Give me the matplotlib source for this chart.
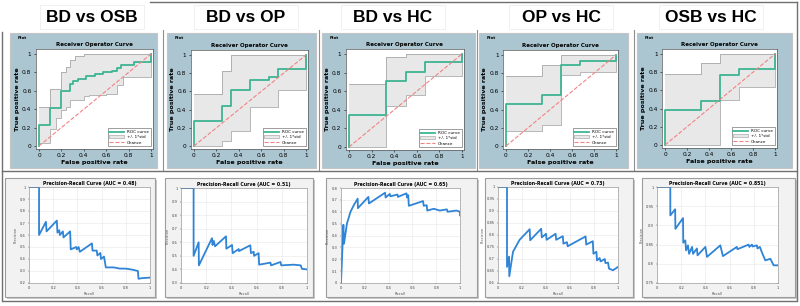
import numpy as np
import matplotlib.pyplot as plt
from matplotlib.patches import Rectangle
from matplotlib.lines import Line2D
from matplotlib.ticker import FuncFormatter

# panel titles / AUC values
titles = ["BD vs OSB", "BD vs OP", "BD vs HC", "OP vs HC", "OSB vs HC"]
pr_auc = ["0.48", "0.51", "0.65", "0.73", "0.851"]

# mean ROC curves (drawn as post steps)
roc_fpr_1 = [0, 0, 0.1, 0.2, 0.28, 0.3, 0.35, 0.42, 0.5, 0.57, 0.65, 0.7, 0.73, 0.85, 1.0]
roc_tpr_1 = [0, 0.23, 0.41, 0.6, 0.67, 0.71, 0.73, 0.76, 0.78, 0.8, 0.82, 0.85, 0.88, 0.91, 1.0]
roc_fpr_2 = [0, 0, 0.25, 0.33, 0.5, 0.67, 0.75, 1.0]
roc_tpr_2 = [0, 0.27, 0.44, 0.62, 0.73, 0.76, 0.85, 1.0]
roc_fpr_3 = [0, 0, 0.33, 0.5, 0.67, 1.0]
roc_tpr_3 = [0, 0.34, 0.71, 0.81, 0.91, 1.0]
roc_fpr_4 = [0, 0, 0.33, 0.5, 0.67, 1.0]
roc_tpr_4 = [0, 0.46, 0.56, 0.89, 0.93, 1.0]
roc_fpr_5 = [0, 0, 0.33, 0.5, 0.67, 1.0]
roc_tpr_5 = [0, 0.38, 0.48, 0.77, 0.83, 1.0]

# +/- 1 std band
band_x_1 = [0, 0.1, 0.15, 0.2, 0.24, 0.28, 0.32, 0.4, 0.45, 0.6, 0.7, 0.75, 1.0]
band_hi_1 = [0.42, 0.62, 0.62, 0.8, 0.86, 0.93, 0.98, 1.0, 1.0, 1.0, 1.0, 1.0, 1.0]
band_lo_1 = [0.03, 0.19, 0.3, 0.39, 0.42, 0.5, 0.5, 0.54, 0.55, 0.57, 0.66, 0.75, 1.0]
band_x_2 = [0, 0.25, 0.33, 0.5, 0.75, 1.0]
band_hi_2 = [0.57, 0.82, 1.0, 1.0, 1.0, 1.0]
band_lo_2 = [0.0, 0.06, 0.16, 0.43, 0.62, 1.0]
band_x_3 = [0, 0.33, 0.5, 0.67, 1.0]
band_hi_3 = [0.68, 0.97, 1.0, 1.0, 1.0]
band_lo_3 = [0.0, 0.44, 0.56, 0.76, 1.0]
band_x_4 = [0, 0.33, 0.5, 0.67, 1.0]
band_hi_4 = [0.77, 0.89, 1.0, 1.0, 1.0]
band_lo_4 = [0.16, 0.23, 0.78, 0.81, 1.0]
band_x_5 = [0, 0.33, 0.5, 0.67, 1.0]
band_hi_5 = [0.78, 0.9, 1.0, 1.0, 1.0]
band_lo_5 = [0.0, 0.0, 0.5, 0.64, 1.0]

# precision-recall curves
rec_1 = [0, 0.083, 0.083, 0.14, 0.145, 0.23, 0.235, 0.25, 0.255, 0.28, 0.285, 0.34, 0.345, 0.39, 0.395,
         0.41, 0.42, 0.52, 0.525, 0.56, 0.565, 0.59, 0.595, 0.62, 0.635, 0.66, 0.7, 0.75, 0.8, 0.86, 0.9,
         0.905, 0.93, 1.0]
prec_1 = [1, 1, 0.6, 0.71, 0.63, 0.72, 0.62, 0.64, 0.6, 0.63, 0.58, 0.63, 0.48, 0.5, 0.48,
          0.5, 0.46, 0.53, 0.47, 0.47, 0.43, 0.45, 0.4, 0.42, 0.33, 0.33, 0.33, 0.32, 0.32, 0.31, 0.3,
          0.235, 0.24, 0.245]
rec_2 = [0, 0.1, 0.1, 0.14, 0.142, 0.246, 0.25, 0.26, 0.27, 0.357, 0.36, 0.405, 0.41, 0.458, 0.46,
         0.55, 0.555, 0.577, 0.58, 0.616, 0.62, 0.71, 0.715, 0.79, 0.795, 0.894, 0.95, 0.96, 1.0]
prec_2 = [1, 1, 0.5, 0.6, 0.43, 0.63, 0.58, 0.61, 0.57, 0.644, 0.553, 0.58, 0.52, 0.55, 0.535,
          0.578, 0.52, 0.53, 0.5, 0.52, 0.435, 0.45, 0.43, 0.455, 0.43, 0.435, 0.43, 0.405, 0.4]
rec_3 = [0, 0.02, 0.025, 0.05, 0.08, 0.11, 0.14, 0.142, 0.23, 0.235, 0.37, 0.375, 0.41, 0.415, 0.475,
         0.478, 0.55, 0.555, 0.565, 0.57, 0.69, 0.695, 0.72, 0.725, 0.78, 0.83, 0.89, 0.895, 0.97, 1.0, 1.0]
prec_3 = [0, 0.49, 0.33, 0.5, 0.6, 0.66, 0.71, 0.63, 0.725, 0.67, 0.76, 0.72, 0.75, 0.73, 0.745,
          0.725, 0.755, 0.72, 0.74, 0.65, 0.69, 0.65, 0.655, 0.61, 0.625, 0.61, 0.62, 0.6, 0.61, 0.6, 0.57]
rec_4 = [0, 0.075, 0.075, 0.092, 0.094, 0.125, 0.18, 0.264, 0.268, 0.36, 0.365, 0.4, 0.405, 0.48, 0.485,
         0.54, 0.545, 0.575, 0.58, 0.73, 0.735, 0.79, 0.795, 0.82, 0.825, 0.847, 0.855, 0.89, 0.895, 0.917,
         0.925, 0.958, 1.0]
prec_4 = [1, 1, 0.667, 0.71, 0.628, 0.73, 0.78, 0.824, 0.778, 0.826, 0.79, 0.805, 0.78, 0.805, 0.78,
          0.795, 0.764, 0.77, 0.753, 0.794, 0.76, 0.774, 0.722, 0.73, 0.694, 0.704, 0.69, 0.7, 0.683, 0.685,
          0.66, 0.653, 0.667]
rec_5 = [0, 0.11, 0.11, 0.15, 0.152, 0.215, 0.217, 0.234, 0.24, 0.256, 0.265, 0.29, 0.298, 0.33, 0.335,
         0.4, 0.413, 0.523, 0.545, 0.66, 0.665, 0.757, 0.763, 0.785, 0.79, 0.826, 0.83, 0.85, 0.868, 0.895,
         0.937, 0.964, 1.0]
prec_5 = [1, 1, 0.926, 0.942, 0.891, 0.919, 0.855, 0.861, 0.835, 0.848, 0.826, 0.844, 0.826, 0.84, 0.822,
          0.844, 0.818, 0.848, 0.82, 0.844, 0.838, 0.85, 0.844, 0.85, 0.845, 0.848, 0.84, 0.844, 0.829, 0.809,
          0.813, 0.796, 0.796]

roc_fpr = [roc_fpr_1, roc_fpr_2, roc_fpr_3, roc_fpr_4, roc_fpr_5]
roc_tpr = [roc_tpr_1, roc_tpr_2, roc_tpr_3, roc_tpr_4, roc_tpr_5]
band_x = [band_x_1, band_x_2, band_x_3, band_x_4, band_x_5]
band_hi = [band_hi_1, band_hi_2, band_hi_3, band_hi_4, band_hi_5]
band_lo = [band_lo_1, band_lo_2, band_lo_3, band_lo_4, band_lo_5]
recall = [rec_1, rec_2, rec_3, rec_4, rec_5]
precision = [prec_1, prec_2, prec_3, prec_4, prec_5]
pr_ylim = [(0.2, 1), (0.3, 1), (0, 0.8), (0.6, 1), (0.75, 1)]
pr_ystep = [0.1, 0.1, 0.1, 0.05, 0.05]

# pixel layout of the composite (800 x 306)
W, H = 800, 306
title_cx = [92, 246, 393, 561, 711]
roc_frame = [(10, 157), (167, 316), (322, 475), (479, 628), (637, 792)]
roc_anchor = [(39, 151, 146, 54), (194, 306, 146, 55), (349, 462, 147, 54), (506, 616, 146, 55), (665, 775, 145, 54)]
pr_frame = [(5, 155), (165, 313), (326, 477), (485, 633), (642, 795)]
pr_anchor = [(29, 150, 187, 283), (181, 307, 188, 283), (341, 460, 188, 283), (498, 618, 187, 283), (657, 778, 187, 283)]

GREEN = '#3db592'
BLUE = '#2f84d6'
FRAME = '#abc6d1'


def frect(x0, y0, x1, y1):
    return [x0 / W, 1 - y1 / H, (x1 - x0) / W, (y1 - y0) / H]


def fig_box(x0, y0, x1, y1, **kw):
    r = frect(x0, y0, x1, y1)
    fig.add_artist(Rectangle((r[0], r[1]), r[2], r[3], transform=fig.transFigure, zorder=-5, **kw))


def fig_line(xs, ys, **kw):
    fig.add_artist(Line2D([x / W for x in xs], [1 - y / H for y in ys], transform=fig.transFigure, **kw))


fmt = FuncFormatter(lambda v, p: '%g' % round(v, 3))

fig = plt.figure(figsize=(8, 3.06), dpi=100)

# outline lines of the composite
fig_line([150, 797], [1.5, 1.5], color='#707070', lw=1.0)
fig_line([2, 797], [170.5, 170.5], color='#707070', lw=1.0)
fig_line([2, 797], [300.5, 300.5], color='#707070', lw=1.0)
fig_line([2, 2], [32, 300], color='#707070', lw=1.0)
fig_line([797, 797], [1.5, 300], color='#707070', lw=1.0)
for sx in [163, 319, 477, 634]:
    fig_line([sx, sx], [30, 170], color='#909090', lw=0.8)

for i in range(5):
    # white title box with a faint edge
    fig_box(title_cx[i] - 52, 5, title_cx[i] + 52, 29, facecolor='white', edgecolor='#eeeeee', lw=0.6)
    fig.text(title_cx[i] / W, 1 - 18 / H, titles[i], ha='center', va='center',
             fontsize=12.5, fontweight='bold', family='Liberation Sans')

    # ---- ROC panel ----
    fx0, fx1 = roc_frame[i]
    fig_box(fx0, 33, fx1, 168, facecolor=FRAME, edgecolor='#c4c4c4', lw=0.8)
    fig.text((fx0 + 8) / W, 1 - 38 / H, 'Plot', fontsize=3, fontweight='bold', va='center')

    x0, x1, y0, y1 = roc_anchor[i]
    xl, yl = (-0.03, 1.02), (-0.03, 1.05)
    sx, sy = x1 - x0, y0 - y1
    ax = fig.add_axes(frect(x0 + xl[0] * sx, y0 - yl[1] * sy, x0 + xl[1] * sx, y0 - yl[0] * sy))
    ax.fill_between(band_x[i], band_lo[i], band_hi[i], step='post', color='#e8e8e8', lw=0,
                    label='+/- 1*std')
    ax.step(band_x[i], band_hi[i], where='post', color='#9a9a9a', lw=0.5)
    ax.step(band_x[i], band_lo[i], where='post', color='#9a9a9a', lw=0.5)
    ax.step(roc_fpr[i], roc_tpr[i], where='post', color=GREEN, lw=1.3, label='ROC curve')
    ax.plot([0, 1], [0, 1], '--', color='#f38282', lw=0.8, label='Chance')
    ax.set_xlim(xl)
    ax.set_ylim(yl)
    ax.set_xticks(np.arange(0, 1.01, 0.2))
    ax.set_yticks(np.arange(0, 1.01, 0.2))
    ax.xaxis.set_major_formatter(fmt)
    ax.yaxis.set_major_formatter(fmt)
    ax.tick_params(labelsize=4.2, length=1.5, width=0.4, pad=1.5)
    for s in ax.spines.values():
        s.set_linewidth(0.5)
        s.set_color('#555555')
    ax.set_title('Receiver Operator Curve', fontsize=4, fontweight='bold', pad=2.5)
    ax.set_xlabel('False positive rate', fontsize=4.6, fontweight='bold', labelpad=1.5)
    ax.set_ylabel('True positive rate', fontsize=4.6, fontweight='bold', labelpad=1.5)
    h, lab = ax.get_legend_handles_labels()
    order = [lab.index('ROC curve'), lab.index('+/- 1*std'), lab.index('Chance')]
    leg = ax.legend([h[k] for k in order], [lab[k] for k in order], loc='lower right', fontsize=3,
                    handlelength=3.5, borderpad=0.4, labelspacing=0.3, fancybox=False,
                    framealpha=1, edgecolor='#555555', borderaxespad=0.6)
    leg.get_frame().set_linewidth(0.4)
    leg.legend_handles[1].set_edgecolor('#9a9a9a')
    leg.legend_handles[1].set_linewidth(0.4)

    # ---- precision-recall panel ----
    px0, px1 = pr_frame[i]
    fig_box(px0 + 2, 180, px1 + 2, 299, facecolor='#c9c9c9', lw=0)
    fig_box(px0, 178, px1, 297, facecolor='#f2f2f2', edgecolor='#9c9c9c', lw=0.8)
    a0, a1, t, b = pr_anchor[i]
    bx = fig.add_axes(frect(a0, t, a1, b))
    bx.plot(recall[i], precision[i], color=BLUE, lw=1.3)
    bx.set_xlim(0, 1)
    bx.set_ylim(pr_ylim[i])
    bx.set_xticks(np.arange(0, 1.01, 0.2))
    bx.set_yticks(np.arange(pr_ylim[i][0], pr_ylim[i][1] + 1e-6, pr_ystep[i]))
    bx.xaxis.set_major_formatter(fmt)
    bx.yaxis.set_major_formatter(fmt)
    bx.grid(True, color='#e6e6e6', lw=0.4)
    bx.tick_params(labelsize=2.6, length=1, width=0.3, pad=1.5, colors='#444444')
    for s in bx.spines.values():
        s.set_linewidth(0.4)
        s.set_color('#888888')
    bx.set_title('Precision-Recall Curve (AUC = %s)' % pr_auc[i], fontsize=3.3, fontweight='bold', pad=1.2)
    bx.set_xlabel('Recall', fontsize=2.6, labelpad=1, color='#555555')
    bx.set_ylabel('Precision', fontsize=2.6, labelpad=1.5, color='#555555')

fig.savefig('out.png', dpi=100)
